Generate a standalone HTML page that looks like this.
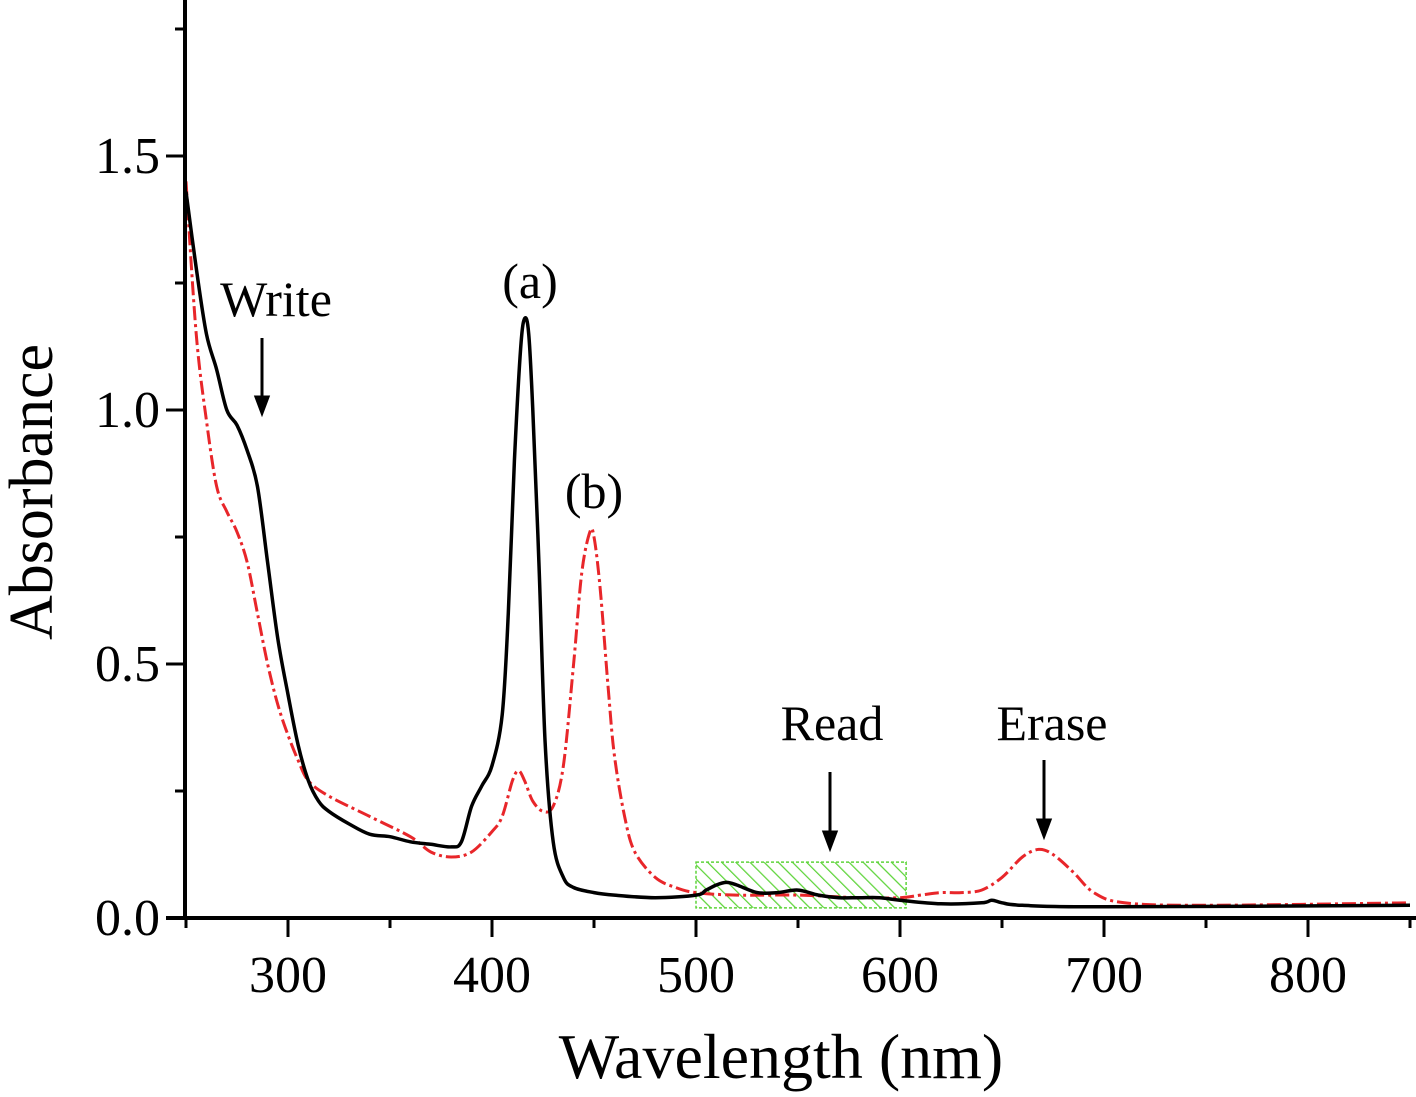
<!DOCTYPE html>
<html><head><meta charset="utf-8"><style>
html,body{margin:0;padding:0;background:#fff;}
svg{display:block;font-family:"Liberation Serif",serif;}
</style></head><body>
<svg id="chart" width="1416" height="1097" viewBox="0 0 1416 1097">
<defs><pattern id="hatch" width="10" height="10" patternUnits="userSpaceOnUse" patternTransform="rotate(-45)"><line x1="0" y1="0" x2="0" y2="10" stroke="#5ed43a" stroke-width="2.5"/></pattern></defs>
<g id="plot"></g>
</svg>
<script>
const xTicks=[300,400,500,600,700,800];
const yTicks=[0.0,0.5,1.0,1.5];
const wlA=[250,255,260,265,270,275,280,285,290,295,300,305,310,315,320,330,340,350,360,370,380,385,390,395,400,405,408,411,414,416,418,420,423,426,430,435,440,450,460,480,500,505,510,515,520,530,540,550,560,570,580,590,600,620,640,645,650,660,700,850];
const absA=[1.43,1.28,1.15,1.08,1.0,0.97,0.92,0.85,0.7,0.55,0.44,0.34,0.27,0.23,0.21,0.185,0.165,0.16,0.15,0.145,0.14,0.15,0.22,0.26,0.3,0.4,0.6,0.9,1.12,1.18,1.15,1.0,0.7,0.35,0.15,0.08,0.06,0.05,0.045,0.04,0.045,0.055,0.065,0.07,0.065,0.05,0.05,0.055,0.045,0.04,0.04,0.04,0.035,0.028,0.03,0.035,0.03,0.025,0.022,0.025];
const wlB=[250,255,260,265,270,275,280,285,290,295,300,305,310,320,340,360,370,380,390,400,405,410,413,416,420,425,430,435,440,444,448,450,453,457,460,465,470,480,490,500,520,550,580,600,610,620,630,640,650,660,668,675,685,695,710,750,850];
const absB=[1.45,1.15,0.98,0.85,0.8,0.76,0.7,0.6,0.5,0.42,0.36,0.31,0.27,0.24,0.2,0.16,0.13,0.12,0.13,0.17,0.2,0.27,0.29,0.27,0.23,0.21,0.22,0.3,0.5,0.68,0.76,0.75,0.65,0.45,0.32,0.2,0.13,0.08,0.06,0.05,0.045,0.045,0.04,0.04,0.045,0.05,0.05,0.055,0.08,0.12,0.135,0.125,0.09,0.05,0.03,0.025,0.03];
const readBand=[500,603,0.02,0.11];
const X=v=>186+(v-250)*2.04;
const Y=v=>918-v*508;
const NS="http://www.w3.org/2000/svg";
const g=document.getElementById('plot');
function mk(t,a){const e=document.createElementNS(NS,t);for(const k in a)e.setAttribute(k,a[k]);g.appendChild(e);return e;}
let band=mk('rect',{x:X(readBand[0]),y:Y(readBand[3]),width:X(readBand[1])-X(readBand[0]),height:Y(readBand[2])-Y(readBand[3]),fill:'url(#hatch)',stroke:'#5ed43a','stroke-width':1.5,'stroke-dasharray':'3,2'});


function smooth(w,a){const p=w.map((v,i)=>[X(v),Y(a[i])]);let d='M'+p[0][0].toFixed(1)+','+p[0][1].toFixed(1);
for(let i=0;i<p.length-1;i++){const p0=p[Math.max(0,i-1)],p1=p[i],p2=p[i+1],p3=p[Math.min(p.length-1,i+2)];
const c1=[p1[0]+(p2[0]-p0[0])/6,p1[1]+(p2[1]-p0[1])/6],c2=[p2[0]-(p3[0]-p1[0])/6,p2[1]-(p3[1]-p1[1])/6];
d+=` C${c1[0].toFixed(1)},${c1[1].toFixed(1)} ${c2[0].toFixed(1)},${c2[1].toFixed(1)} ${p2[0].toFixed(1)},${p2[1].toFixed(1)}`;}return d;}
let cb=mk('path',{d:smooth(wlB,absB),fill:'none',stroke:'#e8262a','stroke-width':3,'stroke-dasharray':'14,4,3,4','stroke-linejoin':'round'});


let ca=mk('path',{d:smooth(wlA,absA),fill:'none',stroke:'#000','stroke-width':3.5,'stroke-linejoin':'round'});


let xa=mk('line',{x1:166,y1:918,x2:1416,y2:918,stroke:'#000','stroke-width':4});


let ya=mk('line',{x1:185,y1:0,x2:185,y2:920,stroke:'#000','stroke-width':4});


for(let v=250;v<=850;v+=50){const major=v%100===0;mk('line',{x1:X(v),y1:918,x2:X(v),y2:major?937:928,stroke:'#000','stroke-width':3});}
xTicks.forEach(v=>{const t=mk('text',{x:X(v),y:992,'font-size':52,'text-anchor':'middle'});t.textContent=v;

});
for(let v=0;v<=1.76;v+=0.25){const major=Math.abs(v*2-Math.round(v*2))<1e-6;mk('line',{x1:major?166:175,y1:Y(v),x2:185,y2:Y(v),stroke:'#000','stroke-width':3});}
yTicks.forEach(v=>{const t=mk('text',{x:160,y:Y(v)+17,'font-size':52,'text-anchor':'end'});t.textContent=v.toFixed(1);

});
let xt=mk('text',{x:781,y:1078,'font-size':64,'text-anchor':'middle'});xt.textContent='Wavelength (nm)';


let yt=mk('text',{x:0,y:0,'font-size':62,'text-anchor':'middle',transform:'translate(52,492) rotate(-90)'});yt.textContent='Absorbance';


function label(txt,x,y,name){const t=mk('text',{x:x,y:y,'font-size':50,'text-anchor':'middle'});t.textContent=txt;

}
function arrow(x,y1,y2,name){const a=mk('path',{d:`M${x},${y1} L${x},${y2-14} M${x-6},${y2-16} L${x},${y2} L${x+6},${y2-16} Z`,stroke:'#000','stroke-width':3,fill:'#000'});

}
label('Write',276,316,'write-label');arrow(262,338,413,'write-arrow');
label('(a)',530,298,'label-a');
label('(b)',594,508,'label-b');
label('Read',832,740,'read-label');arrow(830,772,848,'read-arrow');
label('Erase',1052,740,'erase-label');arrow(1044,760,836,'erase-arrow');
</script>
</body></html>
